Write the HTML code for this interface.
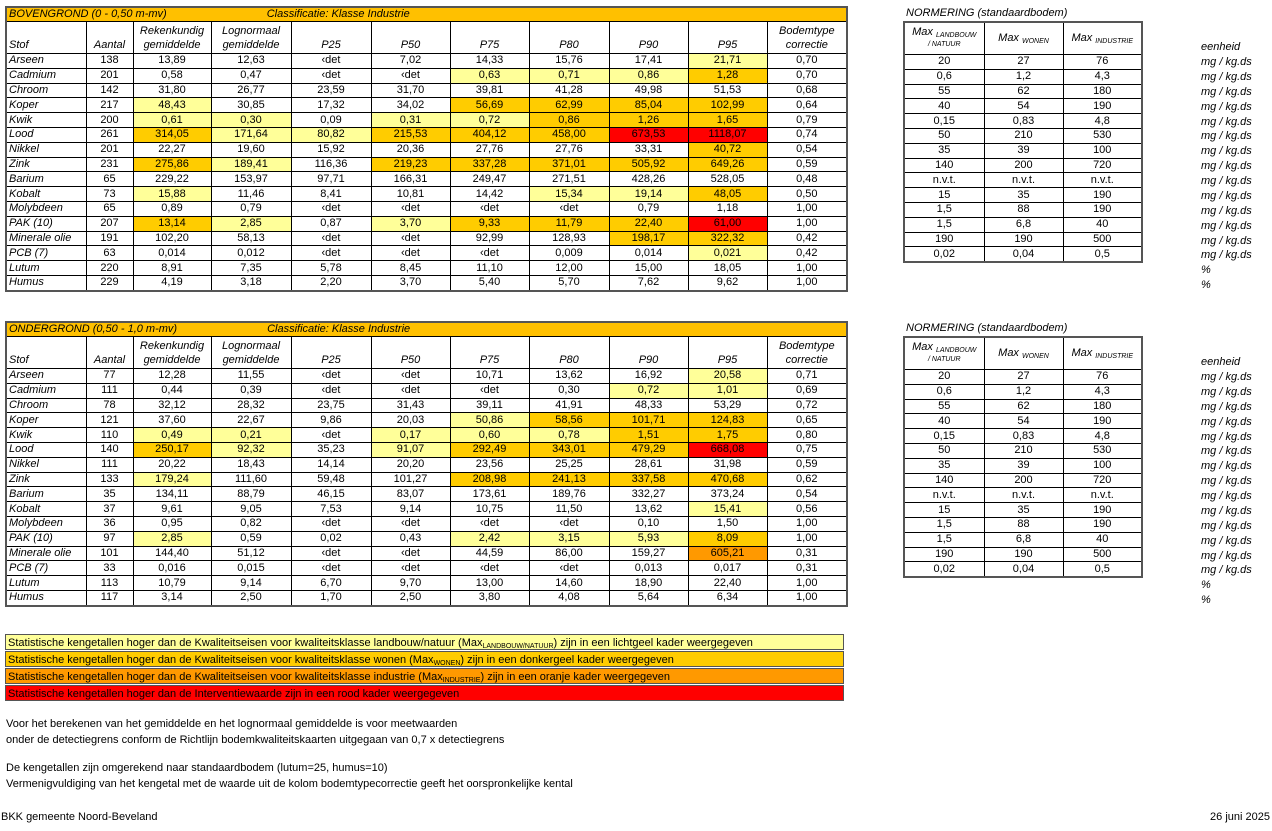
<!DOCTYPE html>
<html><head><meta charset="utf-8"><style>
body{margin:0;width:1272px;height:831px;background:#fff;font-family:"Liberation Sans",sans-serif;font-size:11px;color:#000;position:relative;overflow:hidden}
.a{position:absolute}
table{border-collapse:collapse;table-layout:fixed;position:absolute}
td{border:1px solid #000;padding:0;text-align:center;height:13.8px;line-height:13px;white-space:nowrap;overflow:hidden}
td.s{text-align:left;font-style:italic;padding-left:2px}
tr.h td{height:30px;font-style:italic;vertical-align:bottom;line-height:14px;padding-bottom:1px}
tr.t td{height:13px;background:#FFC000;text-align:left;font-style:italic;padding-left:2px}
.L{background:#FFFF99}.W{background:#FFCC00}.I{background:#FF9900}.R{background:#FF0000}
.main{border:2px solid #555}
sub{font-size:7px;vertical-align:-2px;line-height:0}
tr.nh td{height:31px;font-style:italic;line-height:11px;padding:0}
.u{position:absolute;left:1201px;font-style:italic;line-height:14.875px}
.leg{position:absolute;left:5px;width:839px;height:16px;border:1px solid #555;line-height:16px;padding-left:2px;box-sizing:border-box;font-size:11px}
</style></head><body>

<table class="main" style="left:5px;top:6px;width:841px">
<colgroup><col style="width:80px"><col style="width:47px"><col style="width:78px"><col style="width:80px"><col style="width:80px"><col style="width:79px"><col style="width:79px"><col style="width:80px"><col style="width:79px"><col style="width:79px"><col style="width:80px"></colgroup>
<tr class="t"><td colspan="11" style="border-bottom:1px solid #000">BOVENGROND (0 - 0,50 m-mv)<span style="padding-left:100px">Classificatie: Klasse Industrie</span></td></tr>
<tr class="h"><td class="s">Stof</td><td>Aantal</td><td>Rekenkundig<br>gemiddelde</td><td>Lognormaal<br>gemiddelde</td><td>P25</td><td>P50</td><td>P75</td><td>P80</td><td>P90</td><td>P95</td><td>Bodemtype<br>correctie</td></tr>
<tr><td class="s">Arseen</td><td>138</td><td>13,89</td><td>12,63</td><td>‹det</td><td>7,02</td><td>14,33</td><td>15,76</td><td>17,41</td><td class="L">21,71</td><td>0,70</td></tr>
<tr><td class="s">Cadmium</td><td>201</td><td>0,58</td><td>0,47</td><td>‹det</td><td>‹det</td><td class="L">0,63</td><td class="L">0,71</td><td class="L">0,86</td><td class="W">1,28</td><td>0,70</td></tr>
<tr><td class="s">Chroom</td><td>142</td><td>31,80</td><td>26,77</td><td>23,59</td><td>31,70</td><td>39,81</td><td>41,28</td><td>49,98</td><td>51,53</td><td>0,68</td></tr>
<tr><td class="s">Koper</td><td>217</td><td class="L">48,43</td><td>30,85</td><td>17,32</td><td>34,02</td><td class="W">56,69</td><td class="W">62,99</td><td class="W">85,04</td><td class="W">102,99</td><td>0,64</td></tr>
<tr><td class="s">Kwik</td><td>200</td><td class="L">0,61</td><td class="L">0,30</td><td>0,09</td><td class="L">0,31</td><td class="L">0,72</td><td class="W">0,86</td><td class="W">1,26</td><td class="W">1,65</td><td>0,79</td></tr>
<tr><td class="s">Lood</td><td>261</td><td class="W">314,05</td><td class="L">171,64</td><td class="L">80,82</td><td class="W">215,53</td><td class="W">404,12</td><td class="W">458,00</td><td class="R">673,53</td><td class="R">1118,07</td><td>0,74</td></tr>
<tr><td class="s">Nikkel</td><td>201</td><td>22,27</td><td>19,60</td><td>15,92</td><td>20,36</td><td>27,76</td><td>27,76</td><td>33,31</td><td class="W">40,72</td><td>0,54</td></tr>
<tr><td class="s">Zink</td><td>231</td><td class="W">275,86</td><td class="L">189,41</td><td>116,36</td><td class="W">219,23</td><td class="W">337,28</td><td class="W">371,01</td><td class="W">505,92</td><td class="W">649,26</td><td>0,59</td></tr>
<tr><td class="s">Barium</td><td>65</td><td>229,22</td><td>153,97</td><td>97,71</td><td>166,31</td><td>249,47</td><td>271,51</td><td>428,26</td><td>528,05</td><td>0,48</td></tr>
<tr><td class="s">Kobalt</td><td>73</td><td class="L">15,88</td><td>11,46</td><td>8,41</td><td>10,81</td><td>14,42</td><td class="L">15,34</td><td class="L">19,14</td><td class="W">48,05</td><td>0,50</td></tr>
<tr><td class="s">Molybdeen</td><td>65</td><td>0,89</td><td>0,79</td><td>‹det</td><td>‹det</td><td>‹det</td><td>‹det</td><td>0,79</td><td>1,18</td><td>1,00</td></tr>
<tr><td class="s">PAK (10)</td><td>207</td><td class="W">13,14</td><td class="L">2,85</td><td>0,87</td><td class="L">3,70</td><td class="W">9,33</td><td class="W">11,79</td><td class="W">22,40</td><td class="R">61,00</td><td>1,00</td></tr>
<tr><td class="s">Minerale olie</td><td>191</td><td>102,20</td><td>58,13</td><td>‹det</td><td>‹det</td><td>92,99</td><td>128,93</td><td class="W">198,17</td><td class="W">322,32</td><td>0,42</td></tr>
<tr><td class="s">PCB (7)</td><td>63</td><td>0,014</td><td>0,012</td><td>‹det</td><td>‹det</td><td>‹det</td><td>0,009</td><td>0,014</td><td class="L">0,021</td><td>0,42</td></tr>
<tr><td class="s">Lutum</td><td>220</td><td>8,91</td><td>7,35</td><td>5,78</td><td>8,45</td><td>11,10</td><td>12,00</td><td>15,00</td><td>18,05</td><td>1,00</td></tr>
<tr><td class="s">Humus</td><td>229</td><td>4,19</td><td>3,18</td><td>2,20</td><td>3,70</td><td>5,40</td><td>5,70</td><td>7,62</td><td>9,62</td><td>1,00</td></tr>
</table>

<table class="main" style="left:5px;top:321px;width:841px">
<colgroup><col style="width:80px"><col style="width:47px"><col style="width:78px"><col style="width:80px"><col style="width:80px"><col style="width:79px"><col style="width:79px"><col style="width:80px"><col style="width:79px"><col style="width:79px"><col style="width:80px"></colgroup>
<tr class="t"><td colspan="11" style="border-bottom:1px solid #000">ONDERGROND (0,50 - 1,0 m-mv)<span style="padding-left:90px">Classificatie: Klasse Industrie</span></td></tr>
<tr class="h"><td class="s">Stof</td><td>Aantal</td><td>Rekenkundig<br>gemiddelde</td><td>Lognormaal<br>gemiddelde</td><td>P25</td><td>P50</td><td>P75</td><td>P80</td><td>P90</td><td>P95</td><td>Bodemtype<br>correctie</td></tr>
<tr><td class="s">Arseen</td><td>77</td><td>12,28</td><td>11,55</td><td>‹det</td><td>‹det</td><td>10,71</td><td>13,62</td><td>16,92</td><td class="L">20,58</td><td>0,71</td></tr>
<tr><td class="s">Cadmium</td><td>111</td><td>0,44</td><td>0,39</td><td>‹det</td><td>‹det</td><td>‹det</td><td>0,30</td><td class="L">0,72</td><td class="L">1,01</td><td>0,69</td></tr>
<tr><td class="s">Chroom</td><td>78</td><td>32,12</td><td>28,32</td><td>23,75</td><td>31,43</td><td>39,11</td><td>41,91</td><td>48,33</td><td>53,29</td><td>0,72</td></tr>
<tr><td class="s">Koper</td><td>121</td><td>37,60</td><td>22,67</td><td>9,86</td><td>20,03</td><td class="L">50,86</td><td class="W">58,56</td><td class="W">101,71</td><td class="W">124,83</td><td>0,65</td></tr>
<tr><td class="s">Kwik</td><td>110</td><td class="L">0,49</td><td class="L">0,21</td><td>‹det</td><td class="L">0,17</td><td class="L">0,60</td><td class="L">0,78</td><td class="W">1,51</td><td class="W">1,75</td><td>0,80</td></tr>
<tr><td class="s">Lood</td><td>140</td><td class="W">250,17</td><td class="L">92,32</td><td>35,23</td><td class="L">91,07</td><td class="W">292,49</td><td class="W">343,01</td><td class="W">479,29</td><td class="R">668,08</td><td>0,75</td></tr>
<tr><td class="s">Nikkel</td><td>111</td><td>20,22</td><td>18,43</td><td>14,14</td><td>20,20</td><td>23,56</td><td>25,25</td><td>28,61</td><td>31,98</td><td>0,59</td></tr>
<tr><td class="s">Zink</td><td>133</td><td class="L">179,24</td><td>111,60</td><td>59,48</td><td>101,27</td><td class="W">208,98</td><td class="W">241,13</td><td class="W">337,58</td><td class="W">470,68</td><td>0,62</td></tr>
<tr><td class="s">Barium</td><td>35</td><td>134,11</td><td>88,79</td><td>46,15</td><td>83,07</td><td>173,61</td><td>189,76</td><td>332,27</td><td>373,24</td><td>0,54</td></tr>
<tr><td class="s">Kobalt</td><td>37</td><td>9,61</td><td>9,05</td><td>7,53</td><td>9,14</td><td>10,75</td><td>11,50</td><td>13,62</td><td class="L">15,41</td><td>0,56</td></tr>
<tr><td class="s">Molybdeen</td><td>36</td><td>0,95</td><td>0,82</td><td>‹det</td><td>‹det</td><td>‹det</td><td>‹det</td><td>0,10</td><td>1,50</td><td>1,00</td></tr>
<tr><td class="s">PAK (10)</td><td>97</td><td class="L">2,85</td><td>0,59</td><td>0,02</td><td>0,43</td><td class="L">2,42</td><td class="L">3,15</td><td class="L">5,93</td><td class="W">8,09</td><td>1,00</td></tr>
<tr><td class="s">Minerale olie</td><td>101</td><td>144,40</td><td>51,12</td><td>‹det</td><td>‹det</td><td>44,59</td><td>86,00</td><td>159,27</td><td class="I">605,21</td><td>0,31</td></tr>
<tr><td class="s">PCB (7)</td><td>33</td><td>0,016</td><td>0,015</td><td>‹det</td><td>‹det</td><td>‹det</td><td>‹det</td><td>0,013</td><td>0,017</td><td>0,31</td></tr>
<tr><td class="s">Lutum</td><td>113</td><td>10,79</td><td>9,14</td><td>6,70</td><td>9,70</td><td>13,00</td><td>14,60</td><td>18,90</td><td>22,40</td><td>1,00</td></tr>
<tr><td class="s">Humus</td><td>117</td><td>3,14</td><td>2,50</td><td>1,70</td><td>2,50</td><td>3,80</td><td>4,08</td><td>5,64</td><td>6,34</td><td>1,00</td></tr>
</table>

<div class="a" style="left:906px;top:7px;font-style:italic">NORMERING (standaardbodem)</div>
<table class="main" style="left:903px;top:21px;width:238px">
<colgroup><col style="width:80px"><col style="width:79px"><col style="width:79px"></colgroup>
<tr class="nh"><td>Max <sub>LANDBOUW</sub><br><span style="font-size:7px">/ NATUUR</span></td><td>Max <sub>WONEN</sub></td><td>Max <sub>INDUSTRIE</sub></td></tr>
<tr><td>20</td><td>27</td><td>76</td></tr>
<tr><td>0,6</td><td>1,2</td><td>4,3</td></tr>
<tr><td>55</td><td>62</td><td>180</td></tr>
<tr><td>40</td><td>54</td><td>190</td></tr>
<tr><td>0,15</td><td>0,83</td><td>4,8</td></tr>
<tr><td>50</td><td>210</td><td>530</td></tr>
<tr><td>35</td><td>39</td><td>100</td></tr>
<tr><td>140</td><td>200</td><td>720</td></tr>
<tr><td>n.v.t.</td><td>n.v.t.</td><td>n.v.t.</td></tr>
<tr><td>15</td><td>35</td><td>190</td></tr>
<tr><td>1,5</td><td>88</td><td>190</td></tr>
<tr><td>1,5</td><td>6,8</td><td>40</td></tr>
<tr><td>190</td><td>190</td><td>500</td></tr>
<tr><td>0,02</td><td>0,04</td><td>0,5</td></tr>
</table>
<div class="u" style="top:40px">eenheid</div>
<div class="u" style="top:55px">mg / kg.ds<br>mg / kg.ds<br>mg / kg.ds<br>mg / kg.ds<br>mg / kg.ds<br>mg / kg.ds<br>mg / kg.ds<br>mg / kg.ds<br>mg / kg.ds<br>mg / kg.ds<br>mg / kg.ds<br>mg / kg.ds<br>mg / kg.ds<br>mg / kg.ds<br>%<br>%</div>

<div class="a" style="left:906px;top:322px;font-style:italic">NORMERING (standaardbodem)</div>
<table class="main" style="left:903px;top:336px;width:238px">
<colgroup><col style="width:80px"><col style="width:79px"><col style="width:79px"></colgroup>
<tr class="nh"><td>Max <sub>LANDBOUW</sub><br><span style="font-size:7px">/ NATUUR</span></td><td>Max <sub>WONEN</sub></td><td>Max <sub>INDUSTRIE</sub></td></tr>
<tr><td>20</td><td>27</td><td>76</td></tr>
<tr><td>0,6</td><td>1,2</td><td>4,3</td></tr>
<tr><td>55</td><td>62</td><td>180</td></tr>
<tr><td>40</td><td>54</td><td>190</td></tr>
<tr><td>0,15</td><td>0,83</td><td>4,8</td></tr>
<tr><td>50</td><td>210</td><td>530</td></tr>
<tr><td>35</td><td>39</td><td>100</td></tr>
<tr><td>140</td><td>200</td><td>720</td></tr>
<tr><td>n.v.t.</td><td>n.v.t.</td><td>n.v.t.</td></tr>
<tr><td>15</td><td>35</td><td>190</td></tr>
<tr><td>1,5</td><td>88</td><td>190</td></tr>
<tr><td>1,5</td><td>6,8</td><td>40</td></tr>
<tr><td>190</td><td>190</td><td>500</td></tr>
<tr><td>0,02</td><td>0,04</td><td>0,5</td></tr>
</table>
<div class="u" style="top:355px">eenheid</div>
<div class="u" style="top:370px">mg / kg.ds<br>mg / kg.ds<br>mg / kg.ds<br>mg / kg.ds<br>mg / kg.ds<br>mg / kg.ds<br>mg / kg.ds<br>mg / kg.ds<br>mg / kg.ds<br>mg / kg.ds<br>mg / kg.ds<br>mg / kg.ds<br>mg / kg.ds<br>mg / kg.ds<br>%<br>%</div>

<div class="leg L" style="top:634px">Statistische kengetallen hoger dan de Kwaliteitseisen voor kwaliteitsklasse landbouw/natuur (Max<sub>LANDBOUW/NATUUR</sub>) zijn in een lichtgeel kader weergegeven</div>
<div class="leg W" style="top:651px">Statistische kengetallen hoger dan de Kwaliteitseisen voor kwaliteitsklasse wonen (Max<sub>WONEN</sub>) zijn in een donkergeel kader weergegeven</div>
<div class="leg I" style="top:668px">Statistische kengetallen hoger dan de Kwaliteitseisen voor kwaliteitsklasse industrie (Max<sub>INDUSTRIE</sub>) zijn in een oranje kader weergegeven</div>
<div class="leg R" style="top:685px">Statistische kengetallen hoger dan de Interventiewaarde zijn in een rood kader weergegeven</div>

<div class="a" style="left:6px;top:716px;line-height:16px">Voor het berekenen van het gemiddelde en het lognormaal gemiddelde is voor meetwaarden<br>onder de detectiegrens conform de Richtlijn bodemkwaliteitskaarten uitgegaan van 0,7 x detectiegrens</div>
<div class="a" style="left:6px;top:760px;line-height:16px">De kengetallen zijn omgerekend naar standaardbodem (lutum=25, humus=10)<br>Vermenigvuldiging van het kengetal met de waarde uit de kolom bodemtypecorrectie geeft het oorspronkelijke kental</div>
<div class="a" style="left:1px;top:811px">BKK gemeente Noord-Beveland</div>
<div class="a" style="right:2px;top:811px">26 juni 2025</div>
</body></html>
